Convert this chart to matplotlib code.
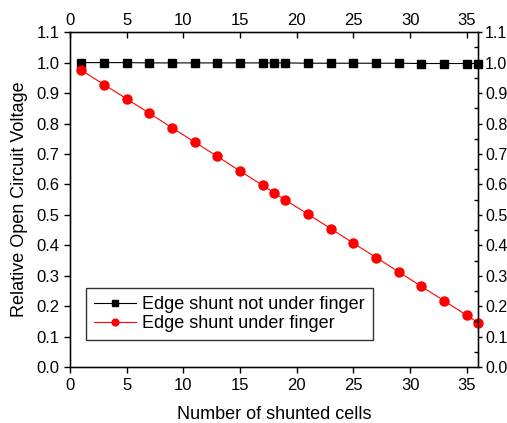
import matplotlib
matplotlib.use("Agg")
import matplotlib.pyplot as plt
from matplotlib.ticker import MultipleLocator

plt.rcParams["font.family"] = ["Liberation Sans", "DejaVu Sans"]

cells = [1, 3, 5, 7, 9, 11, 13, 15, 17, 18, 19, 21, 23, 25, 27, 29, 31, 33, 35, 36]
not_under = [1.000, 1.000, 1.000, 0.999, 0.999, 0.999, 0.999, 0.999, 0.999, 0.999,
             0.999, 0.998, 0.998, 0.998, 0.998, 0.998, 0.997, 0.997, 0.997, 0.997]
under = [0.975, 0.928, 0.881, 0.834, 0.786, 0.739, 0.692, 0.644, 0.597, 0.573,
         0.549, 0.502, 0.455, 0.407, 0.360, 0.313, 0.265, 0.218, 0.170, 0.146]

fig = plt.figure(figsize=(5.07, 4.23), dpi=100)
ax = fig.add_axes([0.138, 0.132, 0.805, 0.792])

ax.plot(cells, not_under, "-s", color="black", lw=0.8, ms=5.5, label="Edge shunt not under finger",
        clip_on=False, zorder=3)
ax.plot(cells, under, "-o", color="red", lw=0.8, ms=6.5, label="Edge shunt under finger",
        clip_on=False, zorder=3)

ax.set_xlim(0, 36)
ax.set_ylim(0, 1.1)
ax.xaxis.set_major_locator(MultipleLocator(5))
ax.yaxis.set_major_locator(MultipleLocator(0.1))
ax.yaxis.set_major_formatter(plt.FormatStrFormatter("%.1f"))
ax.tick_params(axis="both", labelsize=12, direction="out", length=4, width=1)
for s in ax.spines.values():
    s.set_linewidth(1.0)

# twin axes for top and right labels
axt = ax.twiny()
axt.set_xlim(ax.get_xlim())
axt.xaxis.set_major_locator(MultipleLocator(5))
axt.tick_params(axis="x", labelsize=12, direction="in", length=4, width=1, pad=3)

axr = ax.twinx()
axr.set_ylim(ax.get_ylim())
axr.yaxis.set_major_locator(MultipleLocator(0.1))
axr.yaxis.set_minor_locator(MultipleLocator(0.05))
axr.yaxis.set_major_formatter(plt.FormatStrFormatter("%.1f"))
axr.tick_params(axis="y", which="major", labelsize=11.5, direction="out", length=3, width=1, pad=2)
axr.tick_params(axis="y", which="minor", direction="in", length=3, width=1)

ax.set_xlabel("Number of shunted cells", fontsize=13, labelpad=10)
ax.set_ylabel("Relative Open Circuit Voltage", fontsize=13, labelpad=6)

leg = ax.legend(loc="lower left", bbox_to_anchor=(0.039, 0.08), fontsize=13, frameon=True,
                fancybox=False, edgecolor="black", borderpad=0.45, labelspacing=0.1,
                handlelength=2.3, handletextpad=0.35, borderaxespad=0, markerscale=0.75)
leg.get_frame().set_linewidth(1.0)

fig.savefig("out.png", dpi=100)
